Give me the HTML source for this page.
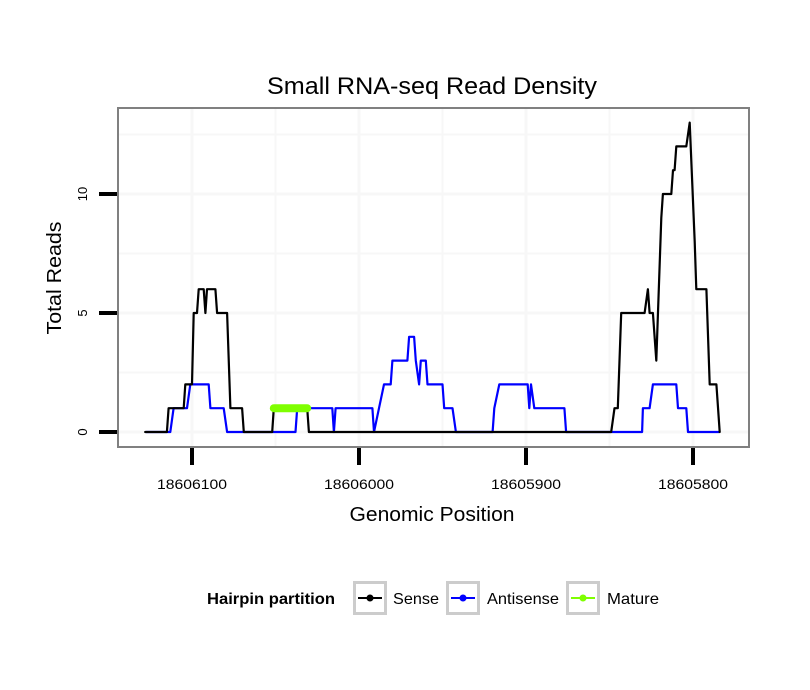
<!DOCTYPE html>
<html><head><meta charset="utf-8"><style>
body{margin:0;background:#fff;}
svg{display:block;font-family:"Liberation Sans",sans-serif;}
</style></head><body>
<svg id="chart" width="810" height="690">
<rect width="810" height="690" fill="#fff"/>
<text x="432" y="94" font-size="24" text-anchor="middle" textLength="330" lengthAdjust="spacingAndGlyphs">Small RNA-seq Read Density</text>
<g id="grid"></g>
<g id="series"></g>
<rect x="118" y="108" width="631" height="339" fill="none" stroke="#808080" stroke-width="2"/>
<g id="axes"></g>
<text transform="translate(61,278) rotate(-90)" font-size="20" text-anchor="middle" textLength="113" lengthAdjust="spacingAndGlyphs">Total Reads</text>
<text x="432" y="521" font-size="20" text-anchor="middle" textLength="165" lengthAdjust="spacingAndGlyphs">Genomic Position</text>
<g>
<text x="207" y="604" font-size="16" font-weight="bold" textLength="128" lengthAdjust="spacingAndGlyphs">Hairpin partition</text>
<g>
<rect x="354.5" y="582.5" width="31" height="31" fill="#fff" stroke="#ccc" stroke-width="3"/>
<line x1="358" y1="598" x2="382" y2="598" stroke="#000" stroke-width="2"/><circle cx="370" cy="598" r="3.5" fill="#000"/>
<text x="393" y="604" font-size="16" textLength="46" lengthAdjust="spacingAndGlyphs">Sense</text></g>
<g>
<rect x="447.5" y="582.5" width="31" height="31" fill="#fff" stroke="#ccc" stroke-width="3"/>
<line x1="451" y1="598" x2="475" y2="598" stroke="#00f" stroke-width="2"/><circle cx="463" cy="598" r="3.5" fill="#00f"/>
<text x="487" y="604" font-size="16" textLength="72" lengthAdjust="spacingAndGlyphs">Antisense</text></g>
<g>
<rect x="567.5" y="582.5" width="31" height="31" fill="#fff" stroke="#ccc" stroke-width="3"/>
<line x1="571" y1="598" x2="595" y2="598" stroke="#7fff00" stroke-width="2"/><circle cx="583" cy="598" r="3.5" fill="#7fff00"/>
<text x="607" y="604" font-size="16" textLength="52" lengthAdjust="spacingAndGlyphs">Mature</text></g>
</g>
</svg>
<script>
const BASE = 18606000;
const xTicks = [18606100, 18606000, 18605900, 18605800];
const xTickLabels = ["18606100", "18606000", "18605900", "18605800"];
const yTicks = [0, 5, 10];
const yTickLabels = ["0", "5", "10"];
const senseOffsets = [128,115,114,105,104,100,99,97,96,93,92,91,86,85,79,77,70,69,52,51,31,30,-151,-153,-155,-157,-171,-173,-174,-176,-178,-181,-182,-187,-188,-189,-190,-196,-198,-201,-202,-208,-210,-214,-216];
const senseValues  = [0,0,1,1,2,2,5,5,6,6,5,6,6,5,5,1,1,0,0,1,1,0,0,1,1,5,5,6,5,5,3,9,10,10,11,11,12,12,13,8,6,6,2,2,0];
const antisenseOffsets = [127.5,113,111,103,101,90,89,81,79,38,37,16,15,14,-8,-9,-12,-15,-19,-20,-29,-30,-33,-34,-36,-37,-40,-41,-50,-51,-56,-58,-80,-81,-84,-101,-102,-103,-105,-123,-124,-169.5,-170,-174,-176,-190,-191,-196,-197,-215.6];
const antisenseValues  = [0,0,1,1,2,2,1,1,0,0,1,1,0,1,1,0,1,2,2,3,3,4,4,3,2,3,3,2,2,1,1,0,0,1,2,2,1,2,1,1,0,0,1,1,2,2,1,1,0,0];
const matureOffsets = [51, 31];
const matureValues = [1, 1];

const NS = "http://www.w3.org/2000/svg";
function xs(pos){ return 192 + (18606100 - pos) * 1.67; }
function ys(v){ return 432 - v * 23.8; }
function mk(tag, attrs, parent){
  const e = document.createElementNS(NS, tag);
  for (const k in attrs) e.setAttribute(k, attrs[k]);
  parent.appendChild(e); return e;
}
const grid = document.getElementById('grid');
const axes = document.getElementById('axes');
const series = document.getElementById('series');
[2.5, 7.5, 12.5].forEach(v => {
  const l = mk('line', {x1:118, x2:749, y1:ys(v), y2:ys(v), stroke:'#f7f7f7', 'stroke-width':2}, grid);
  
  
});
yTicks.forEach(v => {
  const l = mk('line', {x1:118, x2:749, y1:ys(v), y2:ys(v), stroke:'#f7f7f7', 'stroke-width':3}, grid);
  
  
});
xTicks.forEach((p, i) => {
  const l = mk('line', {x1:xs(p), x2:xs(p), y1:108, y2:447, stroke:'#f7f7f7', 'stroke-width':3}, grid);
  
  
  if (i < xTicks.length - 1) {
    const m = (xs(p) + xs(xTicks[i+1])) / 2;
    const l2 = mk('line', {x1:m, x2:m, y1:108, y2:447, stroke:'#f7f7f7', 'stroke-width':2}, grid);
    
    
  }
});
function drawLine(offs, vals, color, w, name){
  const pts = offs.map((o, i) => xs(BASE + o).toFixed(1) + ',' + ys(vals[i]).toFixed(1)).join(' ');
  const pl = mk('polyline', {points:pts, fill:'none', stroke:color, 'stroke-width':w, 'stroke-linejoin':'round', 'stroke-linecap':'round'}, series);
  
  
}
drawLine(antisenseOffsets, antisenseValues, '#0000ff', 2.2, 'antisense-line');
drawLine(senseOffsets, senseValues, '#000000', 2.2, 'sense-line');
drawLine(matureOffsets, matureValues, '#7fff00', 8, 'mature-line');
yTicks.forEach((v, i) => {
  const t = mk('line', {x1:99, x2:117, y1:ys(v), y2:ys(v), stroke:'#000', 'stroke-width':4}, axes);
  
  
  const tx = mk('text', {transform:`translate(87,${ys(v)}) rotate(-90)`, 'font-size':13, 'text-anchor':'middle'}, axes);
  tx.textContent = yTickLabels[i];
  
  
});
xTicks.forEach((p, i) => {
  const t = mk('line', {x1:xs(p), x2:xs(p), y1:448, y2:465, stroke:'#000', 'stroke-width':4}, axes);
  
  
  const tx = mk('text', {x:xs(p), y:489, 'font-size':14, 'text-anchor':'middle', textLength:70, lengthAdjust:'spacingAndGlyphs'}, axes);
  tx.textContent = xTickLabels[i];
  
  
});
</script>
</body></html>
